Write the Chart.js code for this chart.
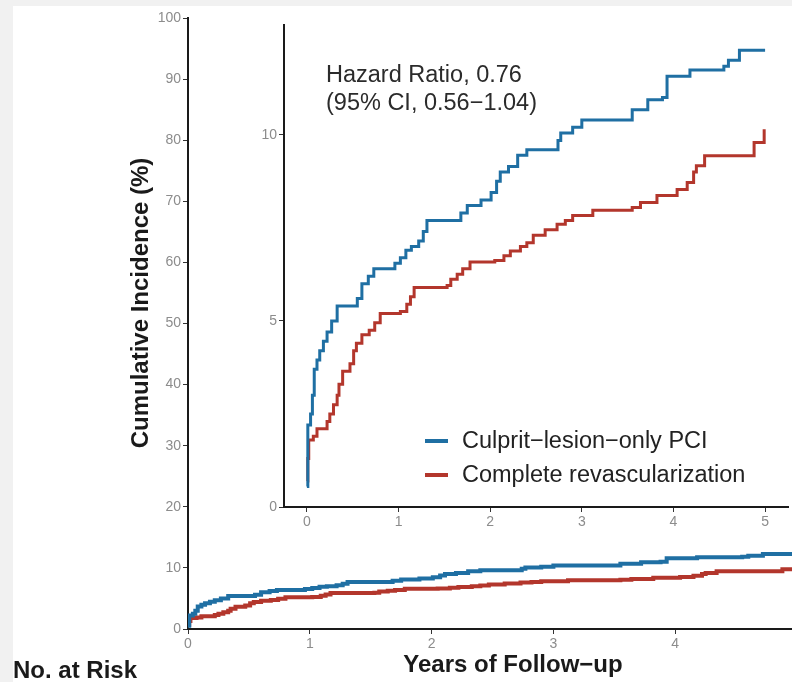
<!DOCTYPE html>
<html>
<head>
<meta charset="utf-8">
<title>Cumulative Incidence</title>
<script src="https://cdn.jsdelivr.net/npm/chart.js@4.4.1/dist/chart.umd.min.js"></script>
<style>
html, body { margin: 0; padding: 0; width: 792px; height: 682px; overflow: hidden; background: #f1f1f1; }
#panel { position: absolute; left: 13px; top: 6px; width: 779px; height: 676px; background: #ffffff; }
#mainChart { position: absolute; left: 0; top: 0; }
#insetChart { position: absolute; left: 224px; top: 0; }
</style>
</head>
<body>
<div id="panel"></div>
<canvas id="mainChart" width="820" height="682"></canvas>
<canvas id="insetChart" width="568" height="540"></canvas>
<script>
// step points (years, cumulative incidence %)
var culpritTimes = [0, 0.01, 0.04, 0.06, 0.08, 0.11, 0.14, 0.18, 0.22, 0.27, 0.33, 0.55, 0.60, 0.67, 0.73,
    0.96, 1.02, 1.08, 1.14, 1.22, 1.27, 1.31, 1.68, 1.75, 1.90, 2.01, 2.07, 2.11, 2.20, 2.30, 2.40,
    2.74, 2.77, 2.90, 3.00, 3.55, 3.72, 3.88, 3.93, 4.18, 4.55, 4.60, 4.72, 5.00];
var culpritValues = [0.55, 2.2, 2.5, 3.0, 3.7, 3.95, 4.2, 4.45, 4.7, 5.0, 5.4, 5.6, 6.0, 6.2, 6.4,
    6.55, 6.7, 6.9, 7.0, 7.15, 7.4, 7.7, 7.9, 8.1, 8.25, 8.45, 8.75, 9.0, 9.15, 9.45, 9.6,
    9.85, 10.05, 10.2, 10.4, 10.67, 10.94, 11.0, 11.57, 11.74, 11.84, 12.0, 12.27, 12.27];

var completeTimes = [0, 0.01, 0.02, 0.07, 0.11, 0.22, 0.25, 0.29, 0.33, 0.35, 0.39, 0.47, 0.51, 0.54,
    0.60, 0.68, 0.74, 0.80, 1.02, 1.09, 1.13, 1.17, 1.53, 1.57, 1.64, 1.70, 1.78, 2.05, 2.15, 2.22,
    2.33, 2.40, 2.47, 2.60, 2.73, 2.82, 2.90, 3.12, 3.55, 3.64, 3.82, 4.04, 4.15, 4.22, 4.25, 4.34,
    4.88, 4.99];
var completeValues = [0.7, 1.3, 1.8, 1.9, 2.1, 2.3, 2.5, 2.75, 3.0, 3.3, 3.65, 3.85, 4.2, 4.4,
    4.63, 4.75, 4.95, 5.2, 5.25, 5.45, 5.65, 5.9, 5.95, 6.12, 6.25, 6.4, 6.58, 6.62, 6.75, 6.88,
    7.0, 7.1, 7.3, 7.45, 7.6, 7.7, 7.83, 7.97, 8.05, 8.18, 8.37, 8.53, 8.72, 9.0, 9.17, 9.44,
    9.79, 10.15];

var seriesLabels = ['Culprit\u2212lesion\u2212only PCI', 'Complete revascularization'];
var seriesColors = ['#1f6fa3', '#b3362c'];
var mainYTicks = [0, 10, 20, 30, 40, 50, 60, 70, 80, 90, 100];
var insetYTicks = [0, 5, 10];
var yearTicks = [0, 1, 2, 3, 4, 5];
var hazardLines = ['Hazard Ratio, 0.76', '(95% CI, 0.56\u22121.04)'];

var FONT = '"Liberation Sans", Arial, sans-serif';

function toPoints(xs, ys) {
    return xs.map(function (x, i) { return { x: x, y: ys[i] }; });
}

function makeDatasets(width) {
    return [
        { label: seriesLabels[0], data: toPoints(culpritTimes, culpritValues) },
        { label: seriesLabels[1], data: toPoints(completeTimes, completeValues) }
    ].map(function (ds, i) {
        ds.borderColor = seriesColors[i];
        ds.backgroundColor = seriesColors[i];
        ds.borderWidth = width;
        ds.stepped = 'before';
        ds.pointRadius = 0;
        ds.fill = false;
        return ds;
    });
}

function fixedTicks(values) {
    return function (scale) {
        scale.ticks = values.map(function (v) { return { value: v }; });
    };
}

function axis(min, max, values, fitSize, horizontal) {
    return {
        type: 'linear',
        min: min,
        max: max,
        afterBuildTicks: fixedTicks(values),
        afterFit: function (s) {
            if (horizontal) s.height = fitSize; else s.width = fitSize;
        },
        grid: { drawOnChartArea: false, drawTicks: true, tickLength: 5, tickColor: '#333', tickWidth: 1 },
        border: { display: true, color: '#1a1a1a', width: 2 },
        ticks: { color: '#8c8c8c', font: { family: FONT, size: 14 }, padding: 2, maxRotation: 0 }
    };
}

var mainText = {
    id: 'mainText',
    afterDraw: function (chart) {
        var ctx = chart.ctx;
        ctx.save();
        ctx.fillStyle = '#1a1a1a';
        ctx.font = 'bold 24px ' + FONT;
        ctx.textAlign = 'center';
        ctx.textBaseline = 'middle';
        ctx.translate(141, 303);
        ctx.rotate(-Math.PI / 2);
        ctx.fillText('Cumulative Incidence (%)', 0, 0);
        ctx.restore();

        ctx.save();
        ctx.fillStyle = '#1a1a1a';
        ctx.font = 'bold 24px ' + FONT;
        ctx.textBaseline = 'alphabetic';
        ctx.textAlign = 'center';
        ctx.fillText('Years of Follow\u2212up', 513, 672);
        ctx.textAlign = 'left';
        ctx.fillText('No. at Risk', 13, 678);
        ctx.restore();
    }
};

var insetText = {
    id: 'insetText',
    afterDraw: function (chart) {
        var ctx = chart.ctx;
        var ox = 224; // canvas offset on the page
        ctx.save();
        ctx.font = '23.5px ' + FONT;
        ctx.fillStyle = '#2b2b2b';
        ctx.textAlign = 'left';
        ctx.textBaseline = 'alphabetic';
        ctx.fillText(hazardLines[0], 326 - ox, 82);
        ctx.fillText(hazardLines[1], 326 - ox, 110);

        var rows = [441, 475];
        chart.data.datasets.forEach(function (ds, i) {
            ctx.strokeStyle = ds.borderColor;
            ctx.lineWidth = 4;
            ctx.beginPath();
            ctx.moveTo(425 - ox, rows[i]);
            ctx.lineTo(448 - ox, rows[i]);
            ctx.stroke();
            ctx.textBaseline = 'middle';
            ctx.fillStyle = '#222';
            ctx.fillText(ds.label, 462 - ox, rows[i] + 1);
        });
        ctx.restore();
    }
};

document.addEventListener('DOMContentLoaded', function () {
    var ctx1 = document.getElementById('mainChart').getContext('2d');
    var mainChart = new Chart(ctx1, {
        type: 'line',
        data: { datasets: makeDatasets(4) },
        options: {
            responsive: false,
            animation: false,
            devicePixelRatio: 1,
            layout: { padding: { left: 0, top: 18, right: 23, bottom: 0 } },
            plugins: { legend: { display: false }, tooltip: { enabled: false } },
            scales: {
                x: axis(0, 5, yearTicks, 53, true),
                y: axis(0, 100, mainYTicks, 188, false)
            }
        },
        plugins: [mainText]
    });

    var ctx2 = document.getElementById('insetChart').getContext('2d');
    var insetChart = new Chart(ctx2, {
        type: 'line',
        data: { datasets: makeDatasets(3) },
        options: {
            responsive: false,
            animation: false,
            devicePixelRatio: 1,
            layout: { padding: { left: 0, top: 25, right: 4, bottom: 0 } },
            plugins: { legend: { display: false }, tooltip: { enabled: false } },
            scales: {
                x: axis(-0.25, 5.25, yearTicks, 33, true),
                y: axis(0, 12.95, insetYTicks, 60, false)
            }
        },
        plugins: [insetText]
    });
});
</script>
</body>
</html>
